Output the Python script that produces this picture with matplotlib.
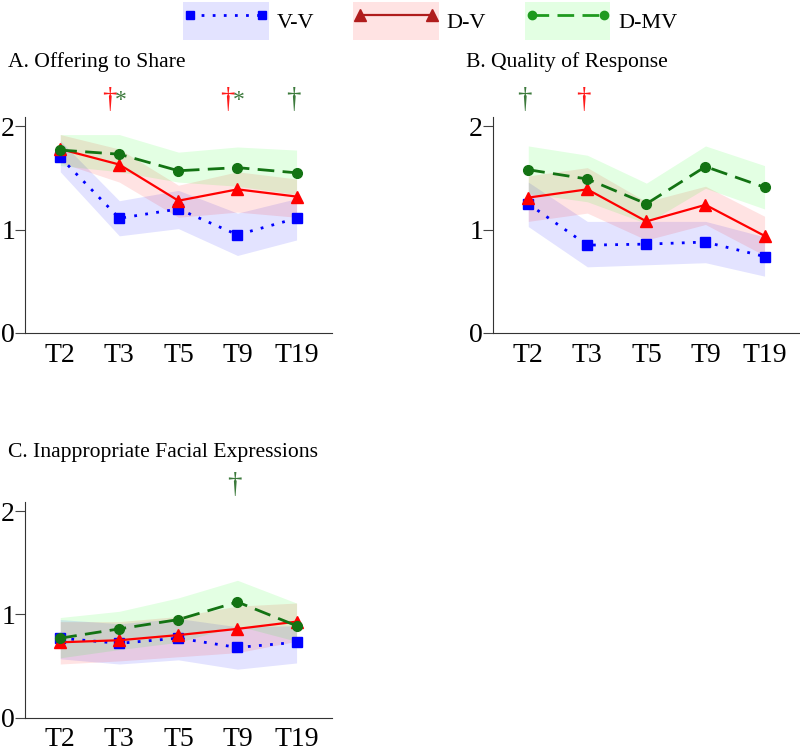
import matplotlib.pyplot as plt
from matplotlib.patches import Patch
from matplotlib.lines import Line2D

plt.rcParams['font.family'] = ['Liberation Serif', 'DejaVu Serif']

# Zeitpunkte
times = ['T2', 'T3', 'T5', 'T9', 'T19']

# A. Offering to Share
a_vv = [1.70, 1.11, 1.20, 0.95, 1.11]
a_vv_lo = [1.56, 0.94, 1.01, 0.75, 0.90]
a_vv_hi = [1.86, 1.28, 1.38, 1.16, 1.30]
a_dv = [1.78, 1.63, 1.28, 1.39, 1.32]
a_dv_lo = [1.65, 1.46, 1.12, 1.17, 1.12]
a_dv_hi = [1.92, 1.78, 1.43, 1.56, 1.49]
a_dmv = [1.77, 1.73, 1.57, 1.60, 1.55]
a_dmv_lo = [1.62, 1.56, 1.46, 1.42, 1.34]
a_dmv_hi = [1.92, 1.92, 1.75, 1.80, 1.77]

# B. Quality of Response
b_vv = [1.25, 0.85, 0.86, 0.88, 0.74]
b_vv_lo = [1.03, 0.64, 0.66, 0.68, 0.55]
b_vv_hi = [1.46, 1.08, 1.08, 1.08, 0.93]
b_dv = [1.31, 1.39, 1.08, 1.24, 0.94]
b_dv_lo = [1.08, 1.16, 0.90, 1.05, 0.75]
b_dv_hi = [1.52, 1.60, 1.27, 1.42, 1.13]
b_dmv = [1.58, 1.49, 1.25, 1.61, 1.41]
b_dmv_lo = [1.35, 1.27, 1.06, 1.40, 1.20]
b_dmv_hi = [1.81, 1.72, 1.45, 1.81, 1.62]

# C. Inappropriate Facial Expressions
c_vv = [0.77, 0.72, 0.77, 0.68, 0.73]
c_vv_lo = [0.57, 0.52, 0.56, 0.47, 0.53]
c_vv_hi = [0.95, 0.91, 0.96, 0.88, 0.89]
c_dv = [0.73, 0.75, 0.80, 0.86, 0.93]
c_dv_lo = [0.52, 0.55, 0.59, 0.63, 0.74]
c_dv_hi = [0.93, 0.93, 0.98, 1.08, 1.11]
c_dmv = [0.77, 0.86, 0.95, 1.12, 0.89]
c_dmv_lo = [0.58, 0.66, 0.73, 0.89, 0.74]
c_dmv_hi = [0.97, 1.03, 1.16, 1.33, 1.11]

# Signifikanz-Zeichen: (Index, Zeichen, Farbe)
a_sig = [(1, '†', 'red'), (1, '*', 'green'), (3, '†', 'red'), (3, '*', 'green'), (4, '†', 'green')]
b_sig = [(0, '†', 'green'), (1, '†', 'red')]
c_sig = [(3, '†', 'green')]

titles = ['A. Offering to Share', 'B. Quality of Response', 'C. Inappropriate Facial Expressions']

col = {'blue': '#0000FF', 'red': '#FF0000', 'green': '#137313'}
leg_col = {'blue': '#0000FF', 'red': '#B01C1C', 'green': '#1F9A1F'}
sig_col = {'red': '#FF1A1A', 'green': '#3C7A3C'}
fill = {'blue': '#0000FF', 'red': '#FF0000', 'green': '#00FF00'}

styles = {
    'V-V': dict(c='blue', ls=(0, (1, 3)), marker='s', ms=7, lw=2),
    'D-V': dict(c='red', ls='-', marker='^', ms=9, lw=1.6),
    'D-MV': dict(c='green', ls=(0, (6, 3)), marker='o', ms=7, lw=2),
}

# (Titel, Achsenrechteck, Titel-y, Daten, Zeichen)
panels = [
    (titles[0], [0.031, 0.556, 0.384, 0.288], 0.917,
     {'V-V': (a_vv, a_vv_lo, a_vv_hi), 'D-V': (a_dv, a_dv_lo, a_dv_hi), 'D-MV': (a_dmv, a_dmv_lo, a_dmv_hi)}, a_sig),
    (titles[1], [0.616, 0.556, 0.384, 0.288], 0.917,
     {'V-V': (b_vv, b_vv_lo, b_vv_hi), 'D-V': (b_dv, b_dv_lo, b_dv_hi), 'D-MV': (b_dmv, b_dmv_lo, b_dmv_hi)}, b_sig),
    (titles[2], [0.031, 0.043, 0.384, 0.288], 0.397,
     {'V-V': (c_vv, c_vv_lo, c_vv_hi), 'D-V': (c_dv, c_dv_lo, c_dv_hi), 'D-MV': (c_dmv, c_dmv_lo, c_dmv_hi)}, c_sig),
]

fig = plt.figure(figsize=(8, 7.5), dpi=100)
x = list(range(len(times)))

for title, rect, ty, data, sig in panels:
    ax = fig.add_axes(rect)
    for name in ['V-V', 'D-V', 'D-MV']:
        mean, lo, hi = data[name]
        st = styles[name]
        ax.fill_between(x, lo, hi, color=fill[st['c']], alpha=0.11, lw=0)
    for name in ['V-V', 'D-V', 'D-MV']:
        mean, lo, hi = data[name]
        st = styles[name]
        ax.plot(x, mean, color=col[st['c']], ls=st['ls'], lw=st['lw'],
                marker=st['marker'], ms=st['ms'])
    # Zeichen ueber den Zeitpunkten: Kreuz links, Stern rechts daneben
    for i, sym, c in sig:
        paired = sum(1 for s in sig if s[0] == i) > 1
        if paired:
            off = -0.17 if sym == '†' else 0.03
        else:
            off = -0.06
        ax.text(i + off, 2.25, sym, color=sig_col[c], fontsize=21 if sym == '†' else 17,
                ha='center', va='center', clip_on=False)
    ax.set_xlim(-0.6, 4.6)
    ax.set_ylim(0, 2.09)
    ax.set_yticks([0, 1, 2])
    ax.set_xticks(x)
    ax.set_xticklabels(times)
    ax.tick_params(axis='x', length=0, pad=7, labelsize=20)
    ax.tick_params(axis='y', length=7, pad=0, labelsize=20, color='#444444')
    for s in ['left', 'bottom']:
        ax.spines[s].set_color('#333333')
    for s in ['top', 'right']:
        ax.spines[s].set_visible(False)
    fig.text(rect[0] - 0.021 if rect[0] < 0.5 else rect[0] - 0.033, ty,
             title, fontsize=15.6, ha='left', va='center')

handles = []
for name in ['V-V', 'D-V', 'D-MV']:
    st = styles[name]
    handles.append((Patch(facecolor=fill[st['c']], alpha=0.11, lw=0),
                    Line2D([], [], color=leg_col[st['c']], ls=st['ls'], lw=st['lw'],
                           marker=st['marker'], ms=st['ms'] - 1)))
fig.legend(handles, ['V-V', 'D-V', 'D-MV'], loc='upper center', bbox_to_anchor=(0.538, 1.003),
           ncol=3, frameon=False, fontsize=16, numpoints=2, handlelength=3.85,
           handleheight=2.26, handletextpad=0.35, columnspacing=1.75, borderaxespad=0.1,
           borderpad=0.1)

fig.savefig('out.png', dpi=100)
